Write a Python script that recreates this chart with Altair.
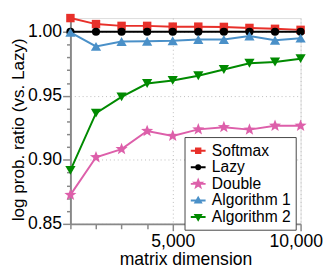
import math
import altair as alt
import pandas as pd

dims = [1000, 2000, 3000, 4000, 5000, 6000, 7000, 8000, 9000, 10000]
series_names = ["Softmax", "Lazy", "Double", "Algorithm 1", "Algorithm 2"]
softmax = [1.0107, 1.0060, 1.0046, 1.0046, 1.0040, 1.0040, 1.0038, 1.0030, 1.0023, 1.0015]
lazy = [1.0, 1.0, 1.0, 1.0, 1.0, 1.0, 1.0, 1.0, 1.0, 1.0]
double = [0.8726, 0.9020, 0.9084, 0.9225, 0.9187, 0.9238, 0.9255, 0.9236, 0.9266, 0.9266]
alg1 = [0.9995, 0.9886, 0.9924, 0.9926, 0.9930, 0.9940, 0.9940, 0.9967, 0.9934, 0.9950]
alg2 = [0.8918, 0.9365, 0.9492, 0.9596, 0.9620, 0.9657, 0.9705, 0.9754, 0.9764, 0.9790]
y_major = [0.85, 0.90, 0.95, 1.00]
x_major = [5000, 10000]

colors = ["#e8302a", "#000000", "#dd5faa", "#4a90c8", "#008a00"]

values = [softmax, lazy, double, alg1, alg2]
rows = []
for name, vals in zip(series_names, values):
    for d, v in zip(dims, vals):
        rows.append({"dim": d, "ratio": v, "series": name})
df = pd.DataFrame(rows)


def star_path(outer=1.0, inner=0.42, dx=0.0):
    pts = []
    for i in range(10):
        r = outer if i % 2 == 0 else inner
        a = -math.pi / 2 + i * math.pi / 5
        pts.append((dx + r * math.cos(a), r * math.sin(a)))
    return "M" + "L".join(f"{x:.3f},{y:.3f}" for x, y in pts) + "Z"


def poly(pts):
    return "M" + "L".join(f"{x:.3f},{y:.3f}" for x, y in pts) + "Z"


star = star_path()
seg = "M-1,0L1,0"
m = 0.30
leg_square = seg + poly([(-m, -m), (m, -m), (m, m), (-m, m)])
cr = 0.27
leg_circle = seg + f"M{-cr},0A{cr},{cr} 0 1,0 {cr},0A{cr},{cr} 0 1,0 {-cr},0Z"
leg_star = seg + star_path(0.5, 0.21)
t = 0.38
leg_tri_up = seg + poly([(0, -t), (t, t * 0.75), (-t, t * 0.75)])
leg_tri_down = seg + poly([(0, t), (t, -t * 0.75), (-t, -t * 0.75)])

marker_shapes = ["square", "circle", star, "triangle-up", "triangle-down"]
marker_sizes = [75, 70, 170, 110, 110]
legend_shapes = [leg_square, leg_circle, leg_star, leg_tri_up, leg_tri_down]

xscale = alt.Scale(domain=[1000, 10000], nice=False, zero=False)
yscale = alt.Scale(domain=[0.85, 1.0107], nice=False, zero=False)

y_vals = [round(0.85 + 0.01 * i, 2) for i in range(16)]
x_vals = dims
ymaj = "abs(round(datum.value*100) % 5) < 0.5"
xmaj = "datum.value % 5000 == 0"

y_axis = alt.Axis(
    values=y_vals,
    labelExpr=f"{ymaj} ? format(datum.value, '.2f') : ''",
    labelOverlap=False,
    title="log prob. ratio (vs. Lazy)",
    titleFontSize=17.5,
    titleFontWeight="normal",
    titleColor="#000",
    titlePadding=0,
    titleLimit=400,
    titleY=114,
    labelFontSize=18,
    labelColor="#000",
    labelPadding=1,
    labelFlush=False,
    tickSize={"condition": {"test": ymaj, "value": 8}, "value": 4},
    tickColor="#888",
    tickWidth=1.5,
    domainColor="#888",
    domainWidth=2,
    grid=True,
    gridColor="#bbb",
    gridDash=[1, 3],
    gridOpacity={"condition": {"test": ymaj, "value": 1}, "value": 0},
)
x_axis = alt.Axis(
    values=x_vals,
    labelExpr=f"{xmaj} ? format(datum.value, ',') : ''",
    labelOverlap=False,
    title="matrix dimension",
    titleFontSize=18,
    titleFontWeight="normal",
    titleColor="#000",
    titlePadding=1,
    labelFontSize=18,
    labelColor="#000",
    labelPadding=2,
    labelFlush=False,
    labelOffset={"condition": {"test": "datum.value == 10000", "value": -5}, "value": 0},
    tickSize={"condition": {"test": xmaj, "value": 7}, "value": 5},
    tickColor="#888",
    tickWidth=1.5,
    domainColor="#888",
    domainWidth=2,
    grid=True,
    gridColor="#bbb",
    gridDash=[1, 3],
    gridOpacity={"condition": {"test": xmaj, "value": 1}, "value": 0},
)

base = alt.Chart(df).encode(
    x=alt.X("dim:Q", scale=xscale, axis=x_axis),
    y=alt.Y("ratio:Q", scale=yscale, axis=y_axis),
)

layers = []
for name, shp, sz, col in zip(series_names, marker_shapes, marker_sizes, colors):
    sub = base.transform_filter(alt.datum.series == name)
    layers.append(sub.mark_line(strokeWidth=2, clip=False, color=col))
    layers.append(
        sub.mark_point(filled=True, opacity=1, clip=False).encode(
            shape=alt.value(shp),
            size=alt.value(sz),
            color=alt.value(col),
        )
    )

leg = alt.Legend(
    title=None,
    orient="none",
    legendX=117,
    legendY=122,
    padding=5,
    strokeColor="#444",
    fillColor="#fff",
    labelFontSize=16,
    labelColor="#000",
    labelOffset=5,
    symbolSize=230,
    symbolStrokeWidth=2,
    symbolOpacity=1,
    rowPadding=0,
    labelLimit=200,
)

legend_layer = (
    base.transform_filter("datum.dim < 0")
    .mark_point(filled=False, opacity=1, strokeWidth=2)
    .encode(
        stroke=alt.Stroke("series:N", scale=alt.Scale(domain=series_names, range=colors), legend=leg),
        fill=alt.Fill("series:N", scale=alt.Scale(domain=series_names, range=colors), legend=leg),
        shape=alt.Shape(
            "series:N",
            scale=alt.Scale(domain=series_names, range=legend_shapes),
            legend=leg,
        ),
    )
)
layers.append(legend_layer)

chart = (
    alt.layer(*layers)
    .properties(width=236, height=211, padding={"left": 64, "top": 7, "right": 24, "bottom": 45}, autosize="none")
    .configure_view(stroke="#888", strokeWidth=2)
    .configure(font="Liberation Sans")
)

chart.save("out.html", embed_options={"renderer": "svg", "actions": False})
